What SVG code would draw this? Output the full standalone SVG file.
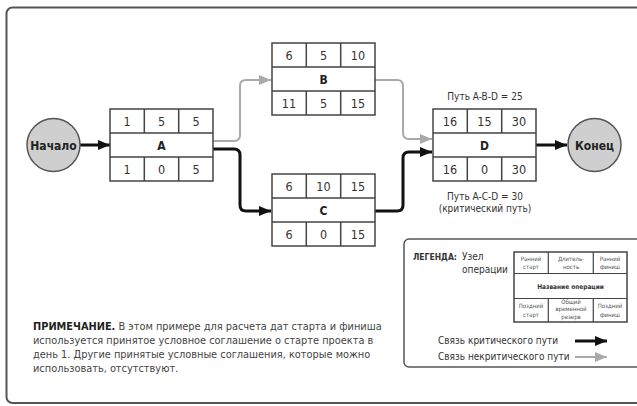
<svg xmlns="http://www.w3.org/2000/svg" width="637" height="406" viewBox="0 0 637 406">
<defs>
<style>
.t{font-family:"Liberation Sans Narrow","DejaVu Sans Condensed","Liberation Sans",sans-serif;fill:#333}
.num{font-size:12.5px;text-anchor:middle}
.lbl{font-size:12px;font-weight:bold;text-anchor:middle;fill:#222}
.box{fill:#fff;stroke:#444;stroke-width:1.5}
.ln{stroke:#444;stroke-width:1.5}
.circ{fill:#cfcfcf;stroke:#555;stroke-width:1.5}
.crit{fill:none;stroke:#111;stroke-width:3}
.non{fill:none;stroke:#aaa;stroke-width:2}
.sm{font-size:10px}
.nt{font-size:10.9px;fill:#444}
.tiny{font-size:6px;text-anchor:middle;fill:#555}
.lg{font-size:6.5px;font-weight:bold;text-anchor:middle;fill:#333}
</style>
<marker id="ab" markerUnits="userSpaceOnUse" markerWidth="12" markerHeight="10" refX="12" refY="5" orient="auto"><path d="M0,0 L12,5 L0,10 Z" fill="#111"/></marker>
<marker id="ag" markerUnits="userSpaceOnUse" markerWidth="12" markerHeight="10" refX="12" refY="5" orient="auto"><path d="M0,0 L12,5 L0,10 Z" fill="#aaa"/></marker>
</defs>
<rect x="6.5" y="7.5" width="660" height="395.5" rx="6" fill="#fff" stroke="#555" stroke-width="2"/>

<g id="connectors">
<path class="crit" d="M80,145 H110" marker-end="url(#ab)"/>
<path class="non" d="M212,141 H234 Q240,141 240,135 V86 Q240,80 246,80 H271" marker-end="url(#ag)"/>
<path class="crit" d="M212,149 H234 Q240,149 240,155 V205 Q240,211 246,211 H271" marker-end="url(#ab)"/>
<path class="non" d="M375,80 H397 Q403,80 403,86 V133 Q403,139 409,139 H432" marker-end="url(#ag)"/>
<path class="crit" d="M375,211 H397 Q403,211 403,205 V158 Q403,152 409,152 H432" marker-end="url(#ab)"/>
<path class="crit" d="M536,145 H567" marker-end="url(#ab)"/>
</g>

<g id="start">
<circle class="circ" cx="53.5" cy="145" r="26.5"/>
<text class="t lbl" x="53.5" y="149.5">Начало</text>
</g>

<g id="end">
<circle class="circ" cx="594.5" cy="145" r="26.5"/>
<text class="t lbl" x="594.5" y="149.5">Конец</text>
</g>

<g id="nodeA">
<rect class="box" x="110" y="109" width="103" height="72"/>
<path class="ln" d="M110,133 H213 M110,157 H213 M144.3,109 V133 M178.7,109 V133 M144.3,157 V181 M178.7,157 V181"/>
<text class="t num" x="127" y="126">1</text><text class="t num" x="161.5" y="126">5</text><text class="t num" x="196" y="126">5</text>
<text class="t lbl" x="161.5" y="149.5">A</text>
<text class="t num" x="127" y="174">1</text><text class="t num" x="161.5" y="174">0</text><text class="t num" x="196" y="174">5</text>
</g>

<g id="nodeB">
<rect class="box" x="272" y="43" width="103" height="72"/>
<path class="ln" d="M272,67 H375 M272,91 H375 M306.3,43 V67 M340.7,43 V67 M306.3,91 V115 M340.7,91 V115"/>
<text class="t num" x="289" y="60">6</text><text class="t num" x="323.5" y="60">5</text><text class="t num" x="358" y="60">10</text>
<text class="t lbl" x="323.5" y="83.5">B</text>
<text class="t num" x="289" y="108">11</text><text class="t num" x="323.5" y="108">5</text><text class="t num" x="358" y="108">15</text>
</g>

<g id="nodeC">
<rect class="box" x="272" y="174" width="103" height="72"/>
<path class="ln" d="M272,198 H375 M272,222 H375 M306.3,174 V198 M340.7,174 V198 M306.3,222 V246 M340.7,222 V246"/>
<text class="t num" x="289" y="191">6</text><text class="t num" x="323.5" y="191">10</text><text class="t num" x="358" y="191">15</text>
<text class="t lbl" x="323.5" y="214.5">C</text>
<text class="t num" x="289" y="239">6</text><text class="t num" x="323.5" y="239">0</text><text class="t num" x="358" y="239">15</text>
</g>

<g id="nodeD">
<rect class="box" x="433" y="109" width="103" height="72"/>
<path class="ln" d="M433,133 H536 M433,157 H536 M467.3,109 V133 M501.7,109 V133 M467.3,157 V181 M501.7,157 V181"/>
<text class="t num" x="450" y="126">16</text><text class="t num" x="484.5" y="126">15</text><text class="t num" x="519" y="126">30</text>
<text class="t lbl" x="484.5" y="149.5">D</text>
<text class="t num" x="450" y="174">16</text><text class="t num" x="484.5" y="174">0</text><text class="t num" x="519" y="174">30</text>
</g>

<g id="paths">
<text class="t sm" x="485" y="100" text-anchor="middle">Путь A-B-D = 25</text>
<text class="t sm" x="485" y="200" text-anchor="middle">Путь A-C-D = 30</text>
<text class="t sm" x="485" y="212" text-anchor="middle">(критический путь)</text>
</g>

<g id="legend">
<rect x="404" y="239" width="260" height="128" rx="5" fill="#fff" stroke="#555" stroke-width="1.5"/>
<text class="t" x="413" y="259.5" font-size="8.5" font-weight="bold" fill="#222">ЛЕГЕНДА:</text>
<text class="t sm" x="462" y="260">Узел</text>
<text class="t sm" x="462" y="273">операции</text>
<rect class="box" x="514" y="252" width="113" height="70" stroke-width="1.2"/>
<path class="ln" style="stroke-width:1.2" d="M514,273.5 H627 M514,298.5 H627 M548.3,252 V273.5 M593.3,252 V273.5 M548.3,298.5 V322 M593.3,298.5 V322"/>
<text class="t tiny" x="531" y="261">Ранний</text><text class="t tiny" x="531" y="269">старт</text>
<text class="t tiny" x="571" y="261">Длитель-</text><text class="t tiny" x="571" y="269">ность</text>
<text class="t tiny" x="610" y="261">Ранний</text><text class="t tiny" x="610" y="269">финиш</text>
<text class="t lg" x="570.5" y="288.5">Название операции</text>
<text class="t tiny" x="531" y="308">Поздний</text><text class="t tiny" x="531" y="317">старт</text>
<text class="t tiny" x="571" y="304">Общий</text><text class="t tiny" x="571" y="311">временной</text><text class="t tiny" x="571" y="318.5">резерв</text>
<text class="t tiny" x="610" y="308">Поздний</text><text class="t tiny" x="610" y="317">финиш</text>
<text class="t sm" x="438" y="344">Связь критического пути</text>
<text class="t sm" x="438" y="360">Связь некритического пути</text>
<path class="crit" d="M575,341 H607" marker-end="url(#ab)"/>
<path class="non" d="M575,357 H607" marker-end="url(#ag)"/>
</g>

<g id="note">
<text class="t nt" x="33" y="330"><tspan font-weight="bold" fill="#222">ПРИМЕЧАНИЕ.</tspan> В этом примере для расчета дат старта и финиша</text>
<text class="t nt" x="33" y="344">используется принятое условное соглашение о старте проекта в</text>
<text class="t nt" x="33" y="358">день 1. Другие принятые условные соглашения, которые можно</text>
<text class="t nt" x="33" y="372">использовать, отсутствуют.</text>
</g>
</svg>
